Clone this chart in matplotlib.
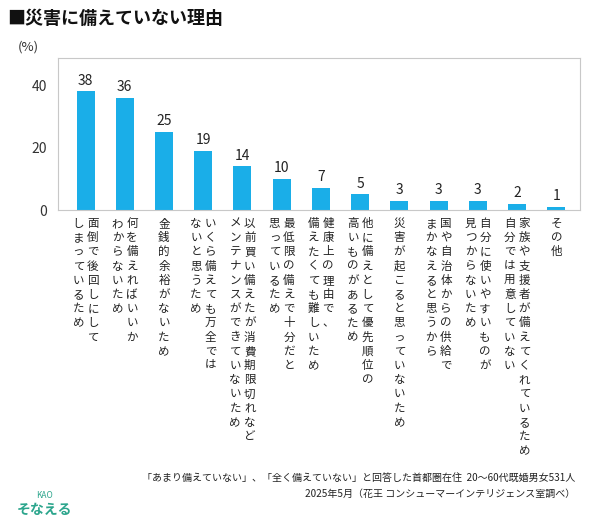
import matplotlib
matplotlib.use("Agg")
import matplotlib.pyplot as plt
from matplotlib.transforms import blended_transform_factory, offset_copy

plt.rcParams['font.family'] = ['Noto Sans CJK JP', 'DejaVu Sans']

categories = [
    ["面倒で後回しにして", "しまっているため"],
    ["何を備えればいいか", "わからないため"],
    ["金銭的余裕がないため"],
    ["いくら備えても万全では", "ないと思うため"],
    ["以前買い備えたが消費期限切れなど", "メンテナンスができていないため"],
    ["最低限の備えで十分だと", "思っているため"],
    ["健康上の理由で、", "備えたくても難しいため"],
    ["他に備えとして優先順位の", "高いものがあるため"],
    ["災害が起こると思っていないため"],
    ["国や自治体からの供給で", "まかなえると思うから"],
    ["自分に使いやすいものが", "見つからないため"],
    ["家族や支援者が備えてくれているため", "自分では用意していない"],
    ["その他"],
]
values = [38, 36, 25, 19, 14, 10, 7, 5, 3, 3, 3, 2, 1]
yticks = [0, 20, 40]

fig = plt.figure(figsize=(5.99, 5.27), dpi=100)
ax = fig.add_axes([0.097, 0.6015, 0.871, 0.2885])
x = list(range(len(values)))
ax.bar(x, values, width=0.46, color='#1AAEE8')
for xi, v in zip(x, values):
    ax.text(xi, v + 1.2, str(v), ha='center', va='bottom', fontsize=10, color='#222222')
ax.set_xlim(-0.7, 12.6)
ax.set_ylim(0, 48.7)
ax.set_yticks(yticks)
ax.set_yticklabels([str(t) for t in yticks], fontsize=10, color='#333333')
ax.set_xticks([])
ax.tick_params(axis='y', length=0, pad=8)
for s in ax.spines.values():
    s.set_color('#C8C8C8')
    s.set_linewidth(0.8)
fig.text(0.03, 0.905, '(%)', fontsize=9.5, color='#333333')

trans = blended_transform_factory(ax.transData, ax.transAxes)
colsp = 10.5  # points between columns
for xi, lines in zip(x, categories):
    n = len(lines)
    for j, line in enumerate(lines):
        off = ((n - 1) / 2 - j) * colsp
        t = offset_copy(trans, fig=fig, x=off, y=-5, units='points')
        ax.text(xi, 0, '\n'.join(line), transform=t, ha='center', va='top',
                fontsize=8.3, linespacing=1.12, color='#222222')

fig.text(0.012, 0.965, '■災害に備えていない理由', fontsize=13, fontweight='bold',
         va='center', color='#111111')
fig.text(0.96, 0.093, '「あまり備えていない」、「全く備えていない」と回答した首都圏在住  20～60代既婚男女531人',
         fontsize=7.2, ha='right', va='center', color='#222222')
fig.text(0.96, 0.063, '2025年5月（花王 コンシューマーインテリジェンス室調べ）',
         fontsize=7.2, ha='right', va='center', color='#222222')
fig.text(0.075, 0.06, 'KAO', fontsize=6, color='#2BA58C', ha='center', va='center')
fig.text(0.075, 0.032, 'そなえる', fontsize=10, color='#2BA58C', ha='center',
         va='center', fontweight='bold')
fig.savefig('out.png', dpi=100)
